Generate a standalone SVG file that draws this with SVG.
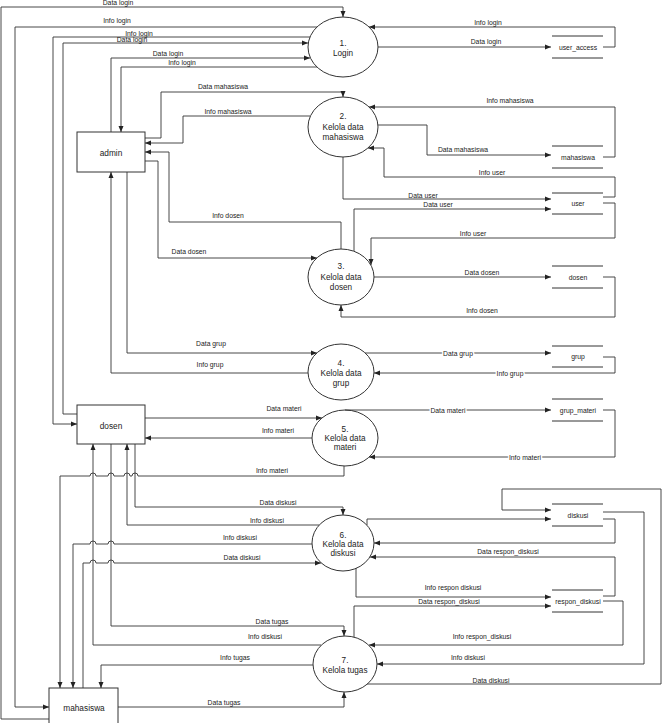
<svg xmlns="http://www.w3.org/2000/svg" width="669" height="723" viewBox="0 0 669 723">
<style>
.bg0{fill:#fff}
.node{fill:#fff;stroke:#333;stroke-width:1}
.st{stroke:#333;stroke-width:1}
.c path{fill:none;stroke:#333;stroke-width:0.9;marker-end:url(#ah)}
.c path.na{marker-end:none}
text{font-family:"Liberation Sans",Arial,sans-serif;fill:#222;text-anchor:middle}
.lb{font-size:6.8px}
.nt{font-size:8.2px}
.et{font-size:8.3px}
.wb{paint-order:stroke;stroke:#fff;stroke-width:3px}
</style>
<defs>
<marker id="ah" markerUnits="userSpaceOnUse" markerWidth="6" markerHeight="6" refX="6" refY="3" orient="auto"><path d="M0,0.5 L6,3 L0,5.5 z" fill="#222"/></marker>
</defs>
<rect class="bg0" x="0" y="0" width="669" height="723"/>

<g id="p1"><ellipse class="node" cx="343" cy="47" rx="35" ry="30"/><text class="nt" x="343" y="45.5">1.</text><text class="nt" x="343" y="55.5">Login</text></g>
<g id="p2"><ellipse class="node" cx="343" cy="127" rx="35" ry="30"/><text class="nt" x="343" y="119">2.</text><text class="nt" x="343" y="130">Kelola data</text><text class="nt" x="343" y="140">mahasiswa</text></g>
<g id="p3"><ellipse class="node" cx="341" cy="277" rx="33" ry="28"/><text class="nt" x="341" y="269">3.</text><text class="nt" x="341" y="280">Kelola data</text><text class="nt" x="341" y="290">dosen</text></g>
<g id="p4"><ellipse class="node" cx="341" cy="372" rx="33" ry="28"/><text class="nt" x="341" y="366">4.</text><text class="nt" x="341" y="376">Kelola data</text><text class="nt" x="341" y="386">grup</text></g>
<g id="p5"><ellipse class="node" cx="345" cy="438" rx="33" ry="28"/><text class="nt" x="345" y="432">5.</text><text class="nt" x="345" y="441">Kelola data</text><text class="nt" x="345" y="450">materi</text></g>
<g id="p6"><ellipse class="node" cx="343" cy="543" rx="31" ry="28"/><text class="nt" x="343" y="538">6.</text><text class="nt" x="343" y="547">Kelola data</text><text class="nt" x="343" y="556">diskusi</text></g>
<g id="p7"><ellipse class="node" cx="345" cy="664" rx="32" ry="28"/><text class="nt" x="345" y="663">7.</text><text class="nt" x="345" y="673">Kelola tugas</text></g>

<g id="admin"><rect class="node" x="77" y="132" width="68" height="40"/><text class="et" x="111" y="156">admin</text></g>
<g id="dosen"><rect class="node" x="77" y="405" width="68" height="39"/><text class="et" x="111" y="429">dosen</text></g>
<g id="mahasiswa"><rect class="node" x="49" y="688" width="69" height="40"/><text class="et" x="84" y="711">mahasiswa</text></g>

<g id="s_user_access"><line class="st" x1="552" y1="36" x2="603" y2="36"/><line class="st" x1="552" y1="58" x2="603" y2="58"/><text class="lb" x="578" y="50">user_access</text></g>
<g id="s_mahasiswa"><line class="st" x1="552" y1="146" x2="603" y2="146"/><line class="st" x1="552" y1="168" x2="603" y2="168"/><text class="lb" x="578" y="160">mahasiswa</text></g>
<g id="s_user"><line class="st" x1="552" y1="193" x2="603" y2="193"/><line class="st" x1="552" y1="214" x2="603" y2="214"/><text class="lb" x="578" y="206">user</text></g>
<g id="s_dosen"><line class="st" x1="552" y1="266" x2="603" y2="266"/><line class="st" x1="552" y1="288" x2="603" y2="288"/><text class="lb" x="578" y="280">dosen</text></g>
<g id="s_grup"><line class="st" x1="552" y1="346" x2="603" y2="346"/><line class="st" x1="552" y1="367" x2="603" y2="367"/><text class="lb" x="578" y="359">grup</text></g>
<g id="s_grup_materi"><line class="st" x1="552" y1="399" x2="603" y2="399"/><line class="st" x1="552" y1="421" x2="603" y2="421"/><text class="lb" x="578" y="413">grup_materi</text></g>
<g id="s_diskusi"><line class="st" x1="552" y1="504" x2="603" y2="504"/><line class="st" x1="552" y1="526" x2="603" y2="526"/><text class="lb" x="578" y="518">diskusi</text></g>
<g id="s_respon_diskusi"><line class="st" x1="552" y1="590" x2="603" y2="590"/><line class="st" x1="552" y1="612" x2="603" y2="612"/><text class="lb" x="578" y="604">respon_diskusi</text></g>

<g id="connectors" class="c">
<path d="M49,719 H1 V7 H343 V17"/>
<path d="M317,27 H15 V707 H49"/>
<path d="M310,37 H53 V424 H77"/>
<path d="M77,414 H63 V43 H308"/>
<path d="M111,132 V58 H310"/>
<path d="M317,67 H121 V132"/>
<path d="M603,47 H615 V27 H369"/>
<path d="M378,47 H551"/>
<path d="M145,138 H161 V92 H343 V97"/>
<path d="M310,116 H183 V143 H145"/>
<path d="M341,249 V222 H169 V152 H145"/>
<path d="M145,161 H158 V258 H317"/>
<path d="M378,125 H427 V155 H551"/>
<path d="M603,157 H615 V107 H369"/>
<path d="M603,197 H615 V177 H384 V148 H368"/>
<path d="M343,157 V199 H551"/>
<path d="M354,251 V209 H551"/>
<path d="M603,203 H615 V238 H371 V265"/>
<path d="M374,277 H551"/>
<path d="M603,277 H615 V317 H341 V305"/>
<path d="M127,172 V353 H317"/>
<path d="M308,373 H111 V172"/>
<path d="M365,353 H551"/>
<path d="M603,357 H615 V373 H374"/>
<path d="M145,418 H322"/>
<path d="M312,438 H145"/>
<path d="M345,410 H551"/>
<path d="M603,410 H615 V457 H369"/>
<path d="M344,466 V476 H138 A3,3 0 0 0 132,476 H130 A3,3 0 0 0 124,476 H114 A3,3 0 0 0 108,476 H96 A3,3 0 0 0 90,476 H60 V688"/>
<path d="M135,444 V507 H343 V515"/>
<path d="M319,525 H127 V444"/>
<path d="M312,544 H114 A3,3 0 0 0 108,544 H96 A3,3 0 0 0 90,544 H73 V688"/>
<path d="M83,688 V563 H90 A3,3 0 0 1 96,563 H108 A3,3 0 0 1 114,563 H321"/>
<path d="M111,444 V626 H344 V636"/>
<path d="M321,645 H93 V444"/>
<path d="M313,665 H101 V688"/>
<path d="M118,707 H344 V692"/>
<path d="M367,525 V519 H551"/>
<path d="M367,684 H661 V489 H502 V510 H551"/>
<path d="M603,512 H644 V664 H377"/>
<path d="M603,519 H615 V543 H374"/>
<path d="M603,596 H615 V557 H370"/>
<path d="M356,568 V597 H551"/>
<path d="M354,637 V606 H551"/>
<path d="M603,601 H623 V645 H369"/>
</g>

<g id="labels" class="lb">
<text class="lb" x="118" y="5">Data login</text>
<text class="lb" x="117" y="22.5">Info login</text>
<text class="lb" x="139" y="35.5">Info login</text>
<text class="lb" x="132" y="42">Data login</text>
<text class="lb" x="168" y="55.5">Data login</text>
<text class="lb" x="182" y="64.5">Info login</text>
<text class="lb" x="488" y="25">Info login</text>
<text class="lb" x="486" y="44">Data login</text>
<text class="lb" x="223" y="88.5">Data mahasiswa</text>
<text class="lb" x="228" y="113.5">Info mahasiswa</text>
<text class="lb" x="228" y="217.5">Info dosen</text>
<text class="lb" x="189" y="253.5">Data dosen</text>
<text class="lb" x="510" y="102.5">Info mahasiswa</text>
<text class="lb" x="463" y="151.5">Data mahasiswa</text>
<text class="lb" x="492" y="174.5">Info user</text>
<text class="lb" x="423" y="198">Data user</text>
<text class="lb" x="438" y="207">Data user</text>
<text class="lb" x="473" y="236">Info user</text>
<text class="lb" x="482" y="275">Data dosen</text>
<text class="lb" x="482" y="312.5">Info dosen</text>
<text class="lb" x="211" y="345.5">Data grup</text>
<text class="lb" x="210" y="366.5">Info grup</text>
<text class="lb wb" x="458" y="355.5">Data grup</text>
<text class="lb wb" x="510" y="375.5">Info grup</text>
<text class="lb" x="284" y="410.5">Data materi</text>
<text class="lb" x="278" y="432.5">Info materi</text>
<text class="lb wb" x="448" y="412.5">Data materi</text>
<text class="lb wb" x="525" y="459.5">Info materi</text>
<text class="lb" x="272" y="472.5">Info materi</text>
<text class="lb" x="278" y="504.5">Data diskusi</text>
<text class="lb" x="267" y="522.5">Info diskusi</text>
<text class="lb" x="240" y="539.5">Info diskusi</text>
<text class="lb" x="242" y="559.5">Data diskusi</text>
<text class="lb" x="272" y="623.5">Data tugas</text>
<text class="lb" x="265" y="638.5">Info diskusi</text>
<text class="lb" x="235" y="659.5">Info tugas</text>
<text class="lb" x="224" y="705">Data tugas</text>
<text class="lb" x="508" y="553.5">Data respon_diskusi</text>
<text class="lb" x="453" y="589.5">Info respon diskusi</text>
<text class="lb" x="449" y="604">Data respon_diskusi</text>
<text class="lb" x="482" y="638.5">Info respon_diskusi</text>
<text class="lb" x="468" y="659.5">Info diskusi</text>
<text class="lb" x="491" y="682.5">Data diskusi</text>
</g>
</svg>
